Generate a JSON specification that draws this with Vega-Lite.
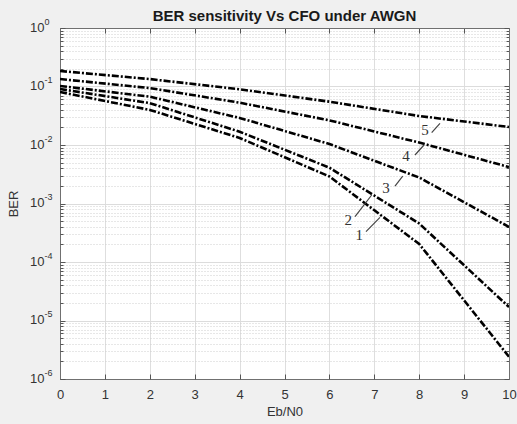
{
  "$schema": "https://vega.github.io/schema/vega-lite/v6.json",
  "width": 449,
  "height": 351,
  "autosize": {"type": "none"},
  "padding": {"left": 60, "top": 28, "right": 8, "bottom": 45},
  "background": "#f0f0f0",
  "view": {"fill": "white", "stroke": null},
  "title": {"text": "BER sensitivity Vs CFO under AWGN", "font": "Liberation Sans", "fontSize": 15, "fontWeight": "bold", "color": "#1a1a1a", "offset": 8, "dy": 15},
  "config": {
    "axis": {"labelFont": "Liberation Sans", "titleFont": "Liberation Sans", "labelColor": "#333333", "titleColor": "#333333", "titleFontWeight": "normal", "labelFontSize": 13, "titleFontSize": 13, "labelOverlap": false}
  },
  "datasets": {
    "curves": [
      {"curve": 1, "Eb": 0, "BER": 0.0805}, {"curve": 1, "Eb": 2, "BER": 0.0398}, {"curve": 1, "Eb": 4, "BER": 0.0132}, {"curve": 1, "Eb": 6, "BER": 0.0029}, {"curve": 1, "Eb": 8, "BER": 0.000203}, {"curve": 1, "Eb": 10, "BER": 0.0000024},
      {"curve": 2, "Eb": 0, "BER": 0.0906}, {"curve": 2, "Eb": 2, "BER": 0.052}, {"curve": 2, "Eb": 4, "BER": 0.0169}, {"curve": 2, "Eb": 6, "BER": 0.0041}, {"curve": 2, "Eb": 8, "BER": 0.000455}, {"curve": 2, "Eb": 10, "BER": 0.000017},
      {"curve": 3, "Eb": 0, "BER": 0.102}, {"curve": 3, "Eb": 2, "BER": 0.067}, {"curve": 3, "Eb": 4, "BER": 0.029}, {"curve": 3, "Eb": 6, "BER": 0.0104}, {"curve": 3, "Eb": 8, "BER": 0.00278}, {"curve": 3, "Eb": 10, "BER": 0.000398},
      {"curve": 4, "Eb": 0, "BER": 0.134}, {"curve": 4, "Eb": 2, "BER": 0.094}, {"curve": 4, "Eb": 4, "BER": 0.0529}, {"curve": 4, "Eb": 6, "BER": 0.0264}, {"curve": 4, "Eb": 8, "BER": 0.011}, {"curve": 4, "Eb": 10, "BER": 0.0042},
      {"curve": 5, "Eb": 0, "BER": 0.184}, {"curve": 5, "Eb": 2, "BER": 0.134}, {"curve": 5, "Eb": 4, "BER": 0.0896}, {"curve": 5, "Eb": 6, "BER": 0.055}, {"curve": 5, "Eb": 8, "BER": 0.0313}, {"curve": 5, "Eb": 10, "BER": 0.0203}
    ],
    "labels": [
      {"label": "5", "lx": 8.129, "ly": 0.01804},
      {"label": "4", "lx": 7.706, "ly": 0.00649},
      {"label": "3", "lx": 7.261, "ly": 0.00184},
      {"label": "2", "lx": 6.421, "ly": 0.000522},
      {"label": "1", "lx": 6.666, "ly": 0.00029}
    ],
    "leaders": [
      {"curve": 5, "xa": 8.278, "ya": 0.01622, "xb": 8.463, "yb": 0.0235},
      {"curve": 4, "xa": 7.906, "ya": 0.00675, "xb": 8.107, "yb": 0.01},
      {"curve": 3, "xa": 7.461, "ya": 0.00199, "xb": 7.633, "yb": 0.00295},
      {"curve": 2, "xa": 6.57, "ya": 0.000594, "xb": 6.942, "yb": 0.001397},
      {"curve": 1, "xa": 6.815, "ya": 0.00033, "xb": 7.127, "yb": 0.000581}
    ]
  },
  "resolve": {"axis": {"x": "independent", "y": "independent"}},
  "layer": [
    {
      "data": {"name": "curves"},
      "transform": [{"filter": "datum.curve <= 3"}],
      "mark": {"type": "line", "color": "black", "strokeWidth": 2.6, "strokeDash": [7, 2, 2, 2], "clip": true},
      "encoding": {
        "x": {"field": "Eb", "type": "quantitative", "scale": {"domain": [0, 10], "nice": false, "zero": false},
          "axis": {"orient": "bottom", "title": "Eb/N0", "values": [0, 1, 2, 3, 4, 5, 6, 7, 8, 9, 10], "ticks": false, "domainColor": "#707070", "grid": true, "gridColor": "#dedede", "labelPadding": 9, "titlePadding": 4, "labelFlush": false}},
        "y": {"field": "BER", "type": "quantitative", "scale": {"type": "log", "domain": [0.000001, 1], "nice": false},
          "axis": {"orient": "left", "title": "BER", "titlePadding": 9, "ticks": false, "domainColor": "#707070", "labelPadding": 16, "labelOffset": -1,
            "values": [1e-6, 2e-6, 3e-6, 4e-6, 5e-6, 6e-6, 7e-6, 8e-6, 9e-6, 1e-5, 2e-5, 3e-5, 4e-5, 5e-5, 6e-5, 7e-5, 8e-5, 9e-5, 1e-4, 2e-4, 3e-4, 4e-4, 5e-4, 6e-4, 7e-4, 8e-4, 9e-4, 1e-3, 2e-3, 3e-3, 4e-3, 5e-3, 6e-3, 7e-3, 8e-3, 9e-3, 1e-2, 2e-2, 3e-2, 4e-2, 5e-2, 6e-2, 7e-2, 8e-2, 9e-2, 0.1, 0.2, 0.3, 0.4, 0.5, 0.6, 0.7, 0.8, 0.9, 1],
            "labelExpr": "abs(log(datum.value)/LN10 - round(log(datum.value)/LN10)) < 0.000001 ? '10' : ''",
            "grid": true,
            "gridColor": {"condition": {"test": "abs(log(datum.value)/LN10 - round(log(datum.value)/LN10)) < 0.000001", "value": "#dcdcdc"}, "value": "#cfcfcf"},
            "gridDash": {"condition": {"test": "abs(log(datum.value)/LN10 - round(log(datum.value)/LN10)) < 0.000001", "value": []}, "value": [1, 2]}}},
        "detail": {"field": "curve", "type": "nominal"}
      }
    },
    {
      "data": {"name": "curves"},
      "transform": [{"filter": "datum.curve > 3"}],
      "mark": {"type": "line", "color": "black", "strokeWidth": 2.6, "strokeDash": [7, 2, 2, 2], "clip": true},
      "encoding": {
        "x": {"field": "Eb", "type": "quantitative", "scale": {"domain": [0, 10], "nice": false, "zero": false},
          "axis": {"orient": "bottom", "title": null, "labels": false, "grid": false, "domain": false, "values": [0, 1, 2, 3, 4, 5, 6, 7, 8, 9, 10], "tickSize": -5, "tickColor": "#555555"}},
        "y": {"field": "BER", "type": "quantitative", "scale": {"type": "log", "domain": [0.000001, 1], "nice": false},
          "axis": {"orient": "left", "title": null, "labels": false, "grid": false, "domain": false, "tickColor": "#555555",
            "values": [1e-6, 2e-6, 3e-6, 4e-6, 5e-6, 6e-6, 7e-6, 8e-6, 9e-6, 1e-5, 2e-5, 3e-5, 4e-5, 5e-5, 6e-5, 7e-5, 8e-5, 9e-5, 1e-4, 2e-4, 3e-4, 4e-4, 5e-4, 6e-4, 7e-4, 8e-4, 9e-4, 1e-3, 2e-3, 3e-3, 4e-3, 5e-3, 6e-3, 7e-3, 8e-3, 9e-3, 1e-2, 2e-2, 3e-2, 4e-2, 5e-2, 6e-2, 7e-2, 8e-2, 9e-2, 0.1, 0.2, 0.3, 0.4, 0.5, 0.6, 0.7, 0.8, 0.9, 1],
            "tickSize": {"condition": {"test": "abs(log(datum.value)/LN10 - round(log(datum.value)/LN10)) < 0.000001", "value": -5}, "value": -3}}},
        "detail": {"field": "curve", "type": "nominal"}
      }
    },
    {
      "data": {"name": "labels"},
      "mark": {"type": "text", "font": "Liberation Serif", "fontSize": 15, "color": "#333333", "align": "center", "baseline": "middle"},
      "encoding": {
        "x": {"field": "lx", "type": "quantitative", "scale": {"domain": [0, 10], "nice": false, "zero": false},
          "axis": {"orient": "top", "title": null, "labels": false, "grid": false, "domainColor": "#707070", "values": [0, 1, 2, 3, 4, 5, 6, 7, 8, 9, 10], "tickSize": -5, "tickColor": "#555555"}},
        "y": {"field": "ly", "type": "quantitative", "scale": {"type": "log", "domain": [0.000001, 1], "nice": false},
          "axis": {"orient": "left", "title": null, "ticks": false, "grid": false, "domain": false, "values": [1e-6, 1e-5, 1e-4, 1e-3, 1e-2, 0.1, 1],
            "labelExpr": "'' + round(log(datum.value)/LN10)", "labelFontSize": 9, "labelAlign": "left", "labelPadding": 16, "labelOffset": -7}},
        "text": {"field": "label", "type": "nominal"}
      }
    },
    {
      "data": {"name": "leaders"},
      "mark": {"type": "rule", "color": "#444444", "strokeWidth": 1.2},
      "encoding": {
        "x": {"field": "xa", "type": "quantitative", "scale": {"domain": [0, 10], "nice": false, "zero": false}, "axis": null},
        "x2": {"field": "xb"},
        "y": {"field": "ya", "type": "quantitative", "scale": {"type": "log", "domain": [0.000001, 1], "nice": false},
          "axis": {"orient": "right", "title": null, "labels": false, "grid": false, "domainColor": "#707070", "tickColor": "#555555",
            "values": [1e-6, 2e-6, 3e-6, 4e-6, 5e-6, 6e-6, 7e-6, 8e-6, 9e-6, 1e-5, 2e-5, 3e-5, 4e-5, 5e-5, 6e-5, 7e-5, 8e-5, 9e-5, 1e-4, 2e-4, 3e-4, 4e-4, 5e-4, 6e-4, 7e-4, 8e-4, 9e-4, 1e-3, 2e-3, 3e-3, 4e-3, 5e-3, 6e-3, 7e-3, 8e-3, 9e-3, 1e-2, 2e-2, 3e-2, 4e-2, 5e-2, 6e-2, 7e-2, 8e-2, 9e-2, 0.1, 0.2, 0.3, 0.4, 0.5, 0.6, 0.7, 0.8, 0.9, 1],
            "tickSize": {"condition": {"test": "abs(log(datum.value)/LN10 - round(log(datum.value)/LN10)) < 0.000001", "value": -5}, "value": -3}}},
        "y2": {"field": "yb"}
      }
    }
  ]
}
